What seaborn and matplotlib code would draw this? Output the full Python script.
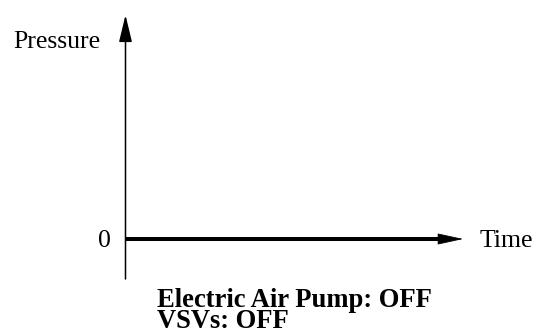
import matplotlib
matplotlib.use("Agg")
import matplotlib.pyplot as plt
import seaborn as sns
import pandas as pd

# Pressure trace: flat at zero for the whole time span
time = [0, 10]
pressure = [0, 0]
time_end = 10.77          # tip of the time axis arrow
pressure_top = 1.0        # tip of the pressure axis arrow
pressure_bottom = -0.1786 # lower end of the pressure axis

y_label = "Pressure"
x_label = "Time"
zero_label = "0"
status_lines = ["Electric Air Pump: OFF", "VSVs: OFF"]

sns.set_theme(style="white")
plt.rcParams["font.family"] = ["Liberation Serif", "DejaVu Serif"]
plt.rcParams["text.color"] = "black"

W, H = 534, 334
fig = plt.figure(figsize=(W / 100, H / 100), dpi=100)
ax = fig.add_axes([0, 0, 1, 1])

# data -> pixel scale
x0_px, y0_px = 125.5, 95.0
sx = (439 - 125.5) / 10.0
sy = 224.0
ax.set_xlim(-x0_px / sx, (W - x0_px) / sx)
ax.set_ylim(-y0_px / sy, (H - y0_px) / sy)
ax.set_axis_off()

df = pd.DataFrame({"time": time, "pressure": pressure})
sns.lineplot(data=df, x="time", y="pressure", ax=ax, color="black",
             linewidth=2.9, solid_capstyle="butt")

# pressure axis with arrow
ax.annotate("", xy=(0, pressure_top), xytext=(0, pressure_bottom),
            arrowprops=dict(arrowstyle="-|>,head_length=0.83,head_width=0.2",
                            color="black", lw=1.1, shrinkA=0, shrinkB=0,
                            mutation_scale=20))
# arrow head on the time axis
ax.annotate("", xy=(time_end, 0), xytext=(time[-1] - 1, 0),
            arrowprops=dict(arrowstyle="-|>,head_length=0.83,head_width=0.18",
                            color="black", lw=0.6, shrinkA=0, shrinkB=0,
                            mutation_scale=20))

fs = 18.5
fs_bold = 19.2
fig.text(13 / W, (H - 48) / H, y_label, fontsize=fs, ha="left", va="baseline",
         color="black")
fig.text(111 / W, (H - 247) / H, zero_label, fontsize=fs, ha="right",
         va="baseline", color="black")
fig.text(480 / W, (H - 247) / H, x_label, fontsize=fs, ha="left",
         va="baseline", color="black")
# status block, two tightly spaced bold lines (anchored on the last baseline)
fig.text(157 / W, (H - 328) / H, "\n".join(status_lines), fontsize=fs_bold,
         fontweight="bold", ha="left", va="baseline", color="black",
         linespacing=0.8)

fig.savefig("out.png", dpi=100, facecolor="white")
